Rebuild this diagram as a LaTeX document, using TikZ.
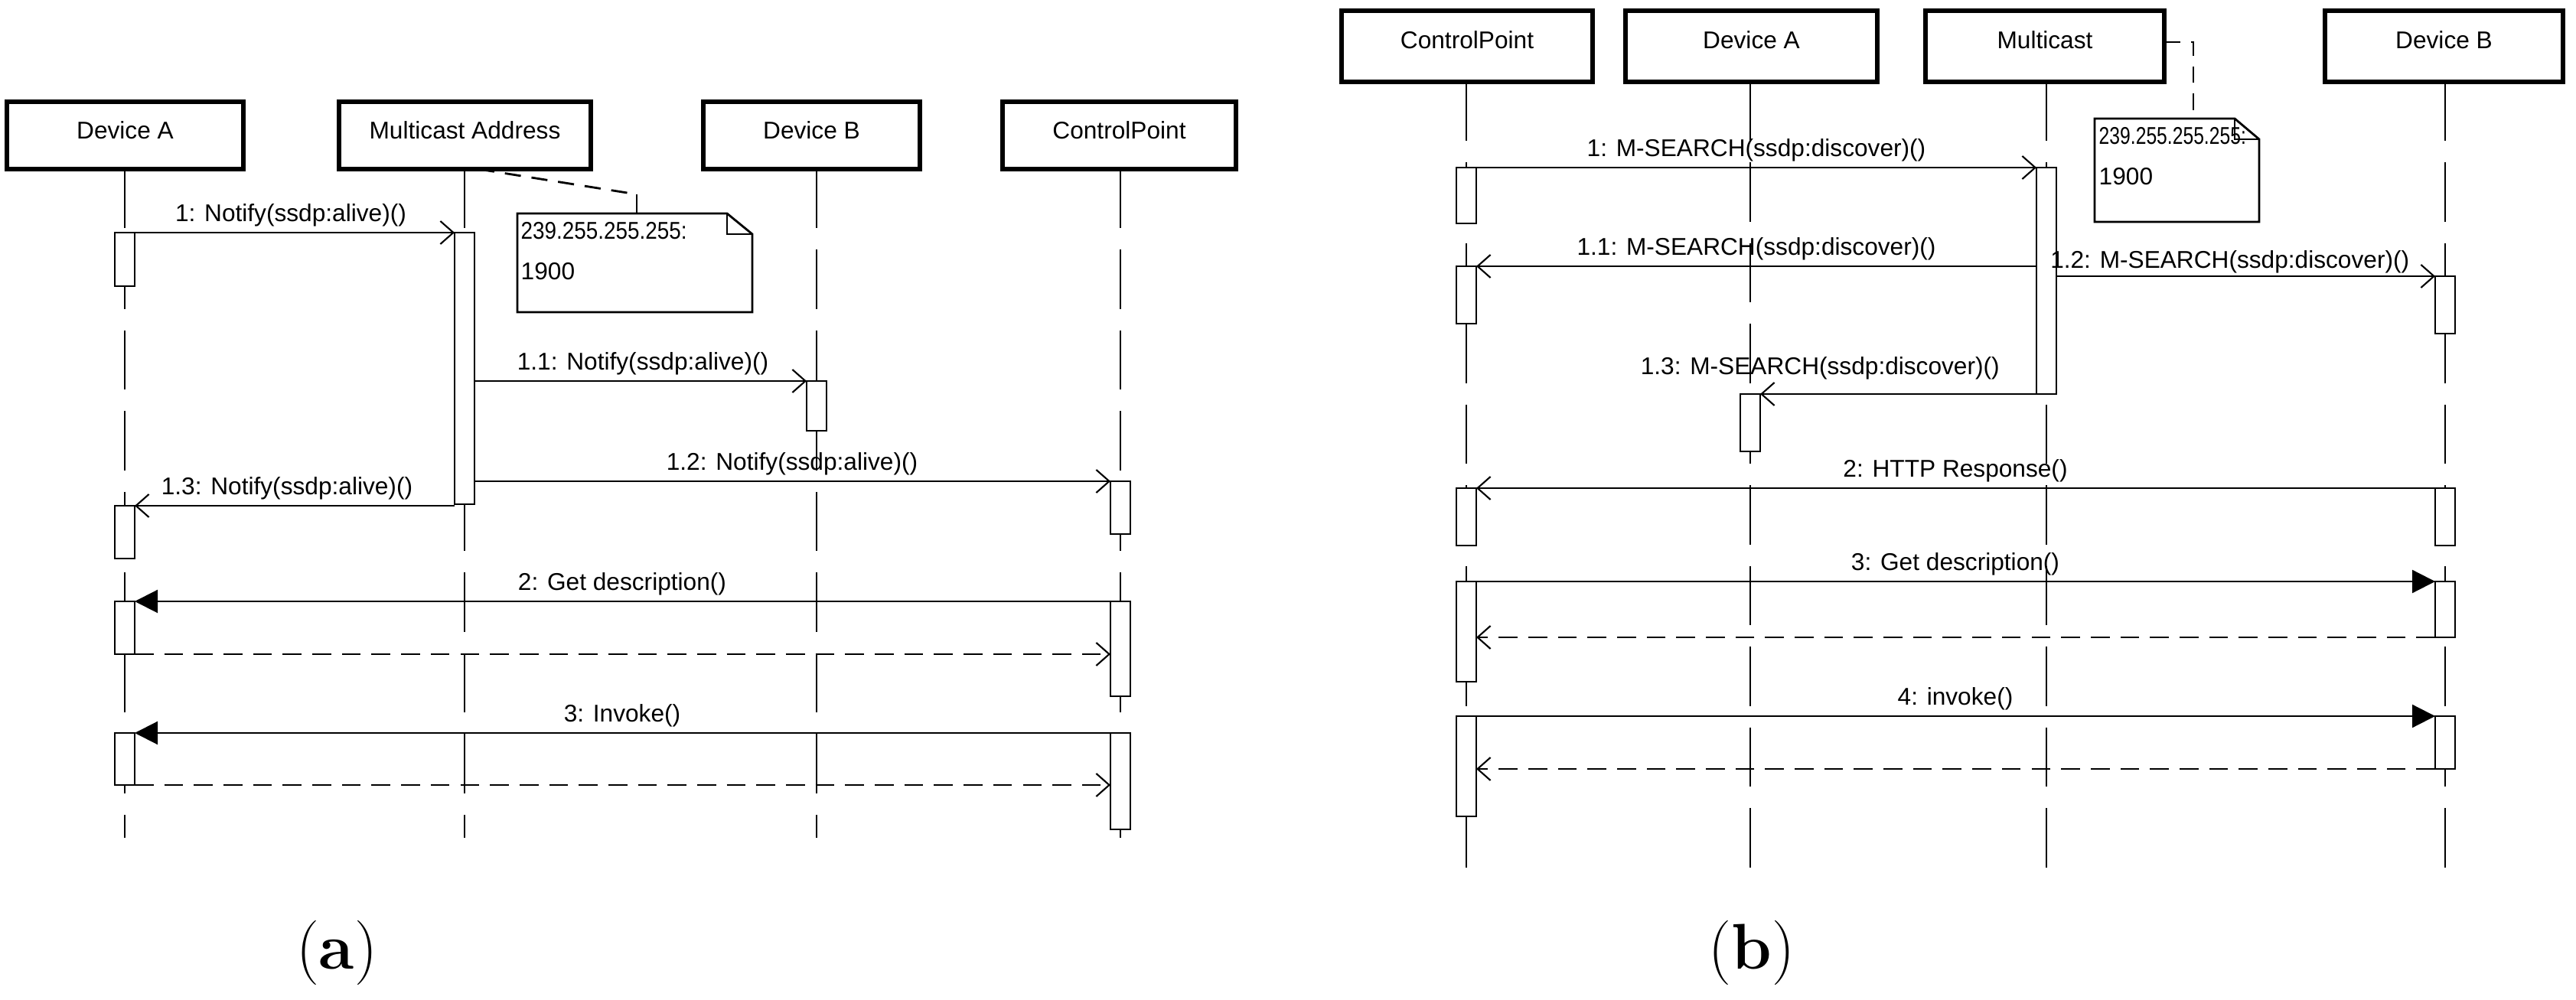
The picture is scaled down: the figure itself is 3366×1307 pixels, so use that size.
\documentclass[tikz,border=0pt]{standalone}
\usepackage{fontspec}
\setmainfont{Liberation Sans}
\newfontfamily\capfont{Latin Modern Roman}
\usetikzlibrary{arrows.meta}
\begin{document}
\begin{tikzpicture}[x=0.01cm,y=-0.01cm,
  objbox/.style={draw,line width=1.5pt},
  objtext/.style={font=\fontsize{9}{10}\selectfont},
  life/.style={line width=0.6pt,dash pattern=on 22pt off 8pt},
  act/.style={draw,fill=white,line width=0.6pt},
  call/.style={line width=0.6pt,-{Straight Barb[length=0.17cm,width=0.3cm]}},
  sync/.style={line width=0.6pt,-{Triangle[length=0.3cm,width=0.3cm]}},
  ret/.style={line width=0.6pt,dash pattern=on 7pt off 4pt,-{Straight Barb[length=0.17cm,width=0.3cm]}},
  lbl/.style={anchor=south,inner sep=2pt,font=\fontsize{9}{10}\selectfont},
  notebox/.style={line width=0.8pt},
  captext/.style={font=\capfont\fontsize{24}{28}\selectfont}]
\useasboundingbox (0,0) rectangle (3366,1307);
% ---------- panel (a) ----------
\foreach \l/\t/\c in {9/318/Device A,443/772/Multicast Address,919/1202/Device B,1310/1615/ControlPoint}{
  \draw[objbox] (\l,133) rectangle (\t,221);
  \node[objtext] at ({(\l+\t)/2},170) {\c};
}
\foreach \x in {163,607,1067,1464}{\draw[life] (\x,221) -- (\x,1095);}
% activations
\draw[act] (150,304) rectangle (176,374);
\draw[act] (594,304) rectangle (620,659);
\draw[act] (1054,498) rectangle (1080,563);
\draw[act] (1451,629) rectangle (1477,698);
\draw[act] (150,661) rectangle (176,730);
\draw[act] (150,786) rectangle (176,855);
\draw[act] (1451,786) rectangle (1477,910);
\draw[act] (150,958) rectangle (176,1026);
\draw[act] (1451,958) rectangle (1477,1084);
% note
\draw[notebox,fill=white] (676,279) -- (950,279) -- (983,306) -- (983,408) -- (676,408) -- cycle;
\draw[notebox] (950,279) -- (950,306) -- (983,306);
\node[anchor=north west,inner sep=0pt,align=left,objtext] at (680,290) {\scalebox{0.88}[1]{239.255.255.255:}\\[5pt]1900};
\draw[line width=0.8pt,dash pattern=on 6pt off 4pt] (625,221) -- (832,254);
\draw[line width=0.6pt] (832,254) -- (832,279);
% messages
\draw[call] (176,304) -- (594,304);
\node[lbl] at (380,304) {1: Notify(ssdp:alive)()};
\draw[call] (620,498) -- (1054,498);
\node[lbl] at (840,498) {1.1: Notify(ssdp:alive)()};
\draw[call] (620,629) -- (1451,629);
\node[lbl] at (1035,629) {1.2: Notify(ssdp:alive)()};
\draw[call] (594,661) -- (176,661);
\node[lbl] at (375,661) {1.3: Notify(ssdp:alive)()};
\draw[sync] (1451,786) -- (176,786);
\node[lbl] at (813,786) {2: Get description()};
\draw[ret] (176,855) -- (1451,855);
\draw[sync] (1451,958) -- (176,958);
\node[lbl] at (813,958) {3: Invoke()};
\draw[ret] (176,1026) -- (1451,1026);
\node[captext] at (440,1245) {(\textbf{a})};
% ---------- panel (b) ----------
\foreach \l/\t/\c in {1753/2081/ControlPoint,2124/2453/Device A,2516/2828/Multicast,3038/3349/Device B}{
  \draw[objbox] (\l,14) rectangle (\t,107);
  \node[objtext] at ({(\l+\t)/2},52) {\c};
}
\foreach \x in {1916,2287,2674,3195}{\draw[life] (\x,107) -- (\x,1149);}
\draw[act] (1903,219) rectangle (1929,292);
\draw[act] (2661,219) rectangle (2687,515);
\draw[act] (1903,348) rectangle (1929,423);
\draw[act] (3182,361) rectangle (3208,436);
\draw[act] (2274,515) rectangle (2300,590);
\draw[act] (1903,638) rectangle (1929,713);
\draw[act] (3182,638) rectangle (3208,713);
\draw[act] (1903,760) rectangle (1929,891);
\draw[act] (3182,760) rectangle (3208,833);
\draw[act] (1903,936) rectangle (1929,1067);
\draw[act] (3182,936) rectangle (3208,1005);
% note
\draw[notebox,fill=white] (2737,155) -- (2920,155) -- (2952,182) -- (2952,290) -- (2737,290) -- cycle;
\draw[notebox] (2920,155) -- (2920,182) -- (2952,182);
\node[anchor=north west,inner sep=0pt,align=left,objtext] at (2742,166) {\scalebox{0.78}[1]{239.255.255.255:}\\[5pt]1900};
\draw[line width=0.8pt,dash pattern=on 6pt off 4pt] (2828,55) -- (2866,55) -- (2866,155);
% messages
\draw[call] (1929,219) -- (2661,219);
\node[lbl] at (2295,219) {1: M-SEARCH(ssdp:discover)()};
\draw[call] (2661,348) -- (1929,348);
\node[lbl] at (2295,348) {1.1: M-SEARCH(ssdp:discover)()};
\draw[call] (2687,361) -- (3182,361);
\node[lbl,anchor=south west,inner sep=1pt] at (2675,361) {1.2: M-SEARCH(ssdp:discover)()};
\draw[call] (2661,515) -- (2300,515);
\node[lbl,anchor=south east,inner sep=1pt] at (2617,500) {1.3: M-SEARCH(ssdp:discover)()};
\draw[call] (3182,638) -- (1929,638);
\node[lbl] at (2555,638) {2: HTTP Response()};
\draw[sync] (1929,760) -- (3182,760);
\node[lbl] at (2555,760) {3: Get description()};
\draw[ret] (3182,833) -- (1929,833);
\draw[sync] (1929,936) -- (3182,936);
\node[lbl] at (2555,936) {4: invoke()};
\draw[ret] (3182,1005) -- (1929,1005);
\node[captext] at (2289,1245) {(\textbf{b})};
\end{tikzpicture}
\end{document}
